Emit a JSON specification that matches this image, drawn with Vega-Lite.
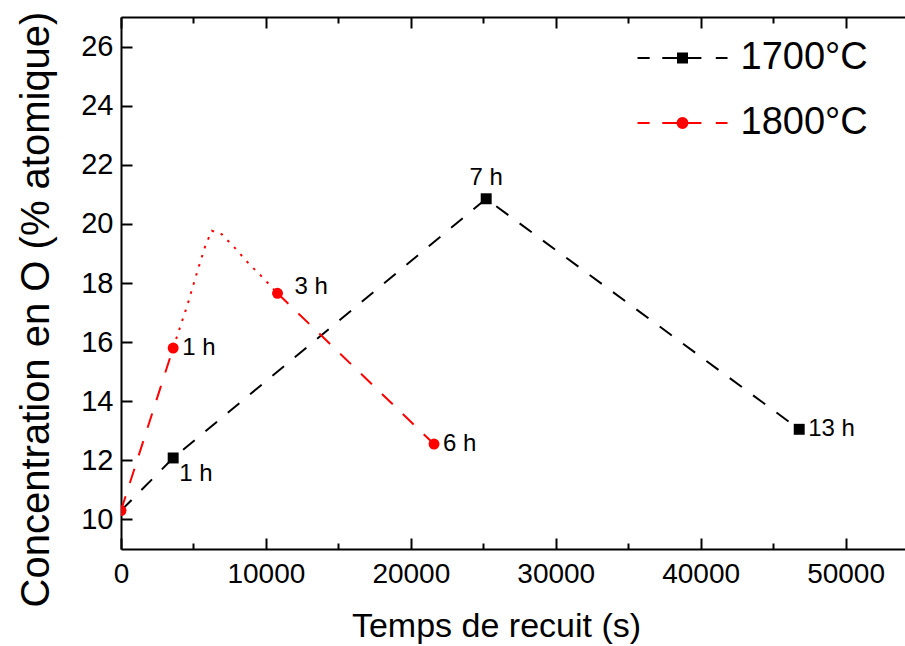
{
  "$schema": "https://vega.github.io/schema/vega-lite/v6.json",
  "autosize": "none",
  "padding": {"left": 121, "top": 17, "right": 0, "bottom": 97},
  "width": 784,
  "height": 532,
  "background": "white",
  "datasets": {
    "lignes": [
      {"t": 0, "c": 10.3, "serie": "1700°C", "seg": "a", "trait": "tirets"},
      {"t": 3600, "c": 12.08, "serie": "1700°C", "seg": "a", "trait": "tirets"},
      {"t": 25200, "c": 20.85, "serie": "1700°C", "seg": "a", "trait": "tirets"},
      {"t": 46800, "c": 13.05, "serie": "1700°C", "seg": "a", "trait": "tirets"},
      {"t": 0, "c": 10.3, "serie": "1800°C", "seg": "b1", "trait": "tirets"},
      {"t": 3600, "c": 15.8, "serie": "1800°C", "seg": "b1", "trait": "tirets"},
      {"t": 3600, "c": 15.8, "serie": "1800°C", "seg": "b2", "trait": "pointillés"},
      {"t": 4580, "c": 17.25, "serie": "1800°C", "seg": "b2", "trait": "pointillés"},
      {"t": 5230, "c": 18.33, "serie": "1800°C", "seg": "b2", "trait": "pointillés"},
      {"t": 5800, "c": 19.23, "serie": "1800°C", "seg": "b2", "trait": "pointillés"},
      {"t": 6260, "c": 19.77, "serie": "1800°C", "seg": "b2", "trait": "pointillés"},
      {"t": 6950, "c": 19.65, "serie": "1800°C", "seg": "b2", "trait": "pointillés"},
      {"t": 7870, "c": 19.18, "serie": "1800°C", "seg": "b2", "trait": "pointillés"},
      {"t": 8790, "c": 18.67, "serie": "1800°C", "seg": "b2", "trait": "pointillés"},
      {"t": 9830, "c": 18.16, "serie": "1800°C", "seg": "b2", "trait": "pointillés"},
      {"t": 10800, "c": 17.65, "serie": "1800°C", "seg": "b2", "trait": "pointillés"},
      {"t": 10800, "c": 17.65, "serie": "1800°C", "seg": "b3", "trait": "tirets"},
      {"t": 21600, "c": 12.55, "serie": "1800°C", "seg": "b3", "trait": "tirets"}
    ],
    "points": [
      {"t": 0, "c": 10.3, "serie": "1800°C", "lab": ""},
      {"t": 3600, "c": 15.8, "serie": "1800°C", "lab": "1 h"},
      {"t": 10800, "c": 17.65, "serie": "1800°C", "lab": "3 h"},
      {"t": 21600, "c": 12.55, "serie": "1800°C", "lab": "6 h"},
      {"t": 3600, "c": 12.08, "serie": "1700°C", "lab": "1 h"},
      {"t": 25200, "c": 20.85, "serie": "1700°C", "lab": "7 h"},
      {"t": 46800, "c": 13.05, "serie": "1700°C", "lab": "13 h"}
    ]
  },
  "layer": [
    {
      "data": {"name": "lignes"},
      "transform": [{"filter": "datum.serie === '1700°C'"}],
      "mark": {"type": "line", "strokeWidth": 2, "color": "#000000", "clip": true},
      "encoding": {
        "x": {
          "field": "t", "type": "quantitative",
          "scale": {"domain": [0, 54100], "nice": false, "zero": false},
          "axis": {
            "orient": "bottom",
            "values": [0, 5000, 10000, 15000, 20000, 25000, 30000, 35000, 40000, 45000, 50000],
            "format": "d",
            "labelExpr": "datum.value % 10000 === 0 ? datum.label : ''",
            "tickSize": {"condition": {"test": "datum.value % 10000 === 0", "value": -11}, "value": -6},
            "labelPadding": 22,
            "labelFlush": false,
            "labelOverlap": false,
            "title": "Temps de recuit (s)",
            "titleFontSize": 34,
            "titleX": 375,
            "titleY": 60,
            "titleAlign": "center",
            "titleBaseline": "top"
          }
        },
        "y": {
          "field": "c", "type": "quantitative",
          "scale": {"domain": [9, 27], "nice": false, "zero": false},
          "axis": {
            "orient": "left",
            "values": [10, 11, 12, 13, 14, 15, 16, 17, 18, 19, 20, 21, 22, 23, 24, 25, 26],
            "labelExpr": "datum.value % 2 === 0 ? datum.label : ''",
            "tickSize": {"condition": {"test": "datum.value % 2 === 0", "value": -11}, "value": -6},
            "labelPadding": 19,
            "labelFontSize": 29,
            "labelFlush": false,
            "labelOverlap": false,
            "title": "Concentration en O (% atomique)",
            "titleFontSize": 40,
            "titleAngle": 270,
            "titleX": -73,
            "titleY": 292,
            "titleAlign": "center",
            "titleBaseline": "alphabetic"
          }
        },
        "detail": {"field": "seg"},
        "strokeDash": {
          "field": "trait", "type": "nominal",
          "scale": {"domain": ["tirets", "pointillés"], "range": [[15, 14], [2.5, 7]]},
          "legend": null
        }
      }
    },
    {
      "data": {"name": "lignes"},
      "transform": [{"filter": "datum.serie === '1800°C'"}],
      "mark": {"type": "line", "strokeWidth": 2, "color": "#ff0000", "clip": true},
      "encoding": {
        "x": {"field": "t", "type": "quantitative", "scale": {"domain": [0, 54100], "nice": false, "zero": false}, "axis": null},
        "y": {"field": "c", "type": "quantitative", "scale": {"domain": [9, 27], "nice": false, "zero": false}},
        "detail": {"field": "seg"},
        "strokeDash": {
          "field": "trait", "type": "nominal",
          "scale": {"domain": ["tirets", "pointillés"], "range": [[15, 14], [2.5, 7]]},
          "legend": null
        }
      }
    },
    {
      "data": {"name": "points"},
      "transform": [{"filter": "false"}],
      "mark": {"type": "point", "filled": true, "opacity": 1},
      "encoding": {
        "x": {"field": "t", "type": "quantitative", "scale": {"domain": [0, 54100], "nice": false, "zero": false}, "axis": null},
        "y": {"field": "c", "type": "quantitative", "scale": {"domain": [9, 27], "nice": false, "zero": false}},
        "shape": {
          "field": "serie", "type": "nominal",
          "scale": {"domain": ["1700°C", "1800°C"], "range": ["M-1,0H-0.73M-0.45,0H0.42M0.74,0H1M-0.1,-0.1H0.1V0.1H-0.1Z", "M-1,0H-0.73M-0.45,0H0.42M0.74,0H1M-0.11,0A0.11,0.11,0,1,0,0.11,0A0.11,0.11,0,1,0,-0.11,0Z"]}
        },
        "stroke": {
          "field": "serie", "type": "nominal",
          "scale": {"domain": ["1700°C", "1800°C"], "range": ["#000000", "#ff0000"]}
        }
      }
    },
    {
      "data": {"name": "points"},
      "transform": [{"filter": "datum.serie === '1700°C'"}],
      "mark": {"type": "point", "shape": "square", "filled": true, "opacity": 1, "size": 120, "clip": true},
      "encoding": {
        "x": {"field": "t", "type": "quantitative", "scale": {"domain": [0, 54100], "nice": false, "zero": false}, "axis": null},
        "y": {"field": "c", "type": "quantitative", "scale": {"domain": [9, 27], "nice": false, "zero": false}},
        "color": {
          "field": "serie", "type": "nominal",
          "scale": {"domain": ["1700°C", "1800°C"], "range": ["#000000", "#ff0000"]},
          "legend": {
            "title": null,
            "orient": "none",
            "legendX": 515.5,
            "legendY": -5,
            "padding": 0,
            "symbolSize": 8100,
            "symbolOffset": 0,
            "symbolStrokeWidth": 2,
            "labelFont": "Liberation Sans",
            "labelFontSize": 38,
            "labelColor": "#000000",
            "labelOffset": 12,
            "labelLimit": 300,
            "rowPadding": -15
          }
        }
      }
    },
    {
      "data": {"name": "points"},
      "transform": [{"filter": "datum.serie === '1800°C'"}],
      "mark": {"type": "point", "shape": "circle", "filled": true, "opacity": 1, "size": 120, "clip": true},
      "encoding": {
        "x": {"field": "t", "type": "quantitative", "scale": {"domain": [0, 54100], "nice": false, "zero": false}, "axis": null},
        "y": {"field": "c", "type": "quantitative", "scale": {"domain": [9, 27], "nice": false, "zero": false}},
        "color": {
          "field": "serie", "type": "nominal",
          "scale": {"domain": ["1700°C", "1800°C"], "range": ["#000000", "#ff0000"]},
          "legend": {
            "title": null,
            "orient": "none",
            "legendX": 515.5,
            "legendY": -5,
            "padding": 0,
            "symbolSize": 8100,
            "symbolOffset": 0,
            "symbolStrokeWidth": 2,
            "labelFont": "Liberation Sans",
            "labelFontSize": 38,
            "labelColor": "#000000",
            "labelOffset": 12,
            "labelLimit": 300,
            "rowPadding": -15
          }
        }
      }
    },
    {
      "data": {"name": "points"},
      "transform": [{"filter": "(datum.lab === '1 h' && datum.serie === '1800°C') || datum.lab === '6 h' || datum.lab === '13 h'"}],
      "mark": {"type": "text", "align": "left", "baseline": "middle", "dx": 9, "font": "Liberation Sans", "fontSize": 24, "color": "#000000"},
      "encoding": {
        "x": {"field": "t", "type": "quantitative", "scale": {"domain": [0, 54100], "nice": false, "zero": false}, "axis": null},
        "y": {"field": "c", "type": "quantitative", "scale": {"domain": [9, 27], "nice": false, "zero": false}},
        "text": {"field": "lab"}
      }
    },
    {
      "data": {"name": "points"},
      "transform": [{"filter": "datum.lab === '3 h'"}],
      "mark": {"type": "text", "align": "left", "baseline": "middle", "dx": 17, "dy": -6, "font": "Liberation Sans", "fontSize": 24, "color": "#000000"},
      "encoding": {
        "x": {"field": "t", "type": "quantitative", "scale": {"domain": [0, 54100], "nice": false, "zero": false}, "axis": null},
        "y": {"field": "c", "type": "quantitative", "scale": {"domain": [9, 27], "nice": false, "zero": false}},
        "text": {"field": "lab"}
      }
    },
    {
      "data": {"name": "points"},
      "transform": [{"filter": "datum.lab === '1 h' && datum.serie === '1700°C'"}],
      "mark": {"type": "text", "align": "left", "baseline": "middle", "dx": 6, "dy": 16, "font": "Liberation Sans", "fontSize": 24, "color": "#000000"},
      "encoding": {
        "x": {"field": "t", "type": "quantitative", "scale": {"domain": [0, 54100], "nice": false, "zero": false}, "axis": null},
        "y": {"field": "c", "type": "quantitative", "scale": {"domain": [9, 27], "nice": false, "zero": false}},
        "text": {"field": "lab"}
      }
    },
    {
      "data": {"name": "points"},
      "transform": [{"filter": "datum.lab === '7 h'"}],
      "mark": {"type": "text", "align": "center", "baseline": "middle", "dy": -21, "font": "Liberation Sans", "fontSize": 24, "color": "#000000"},
      "encoding": {
        "x": {
          "field": "t", "type": "quantitative",
          "scale": {"domain": [0, 54100], "nice": false, "zero": false},
          "axis": {
            "orient": "top",
            "values": [0, 5000, 10000, 15000, 20000, 25000, 30000, 35000, 40000, 45000, 50000],
            "labels": false,
            "title": null,
            "tickSize": {"condition": {"test": "datum.value % 10000 === 0", "value": -11}, "value": -6}
          }
        },
        "y": {"field": "c", "type": "quantitative", "scale": {"domain": [9, 27], "nice": false, "zero": false}},
        "text": {"field": "lab"}
      }
    }
  ],
  "resolve": {"axis": {"x": "independent"}},
  "config": {
    "view": {"stroke": null},
    "axis": {
      "domainColor": "#000000",
      "domainWidth": 2,
      "tickColor": "#000000",
      "tickWidth": 2,
      "grid": false,
      "labelFont": "Liberation Sans",
      "labelFontSize": 28,
      "labelColor": "#000000",
      "titleFont": "Liberation Sans",
      "titleFontWeight": "normal",
      "titleColor": "#000000"
    }
  }
}
